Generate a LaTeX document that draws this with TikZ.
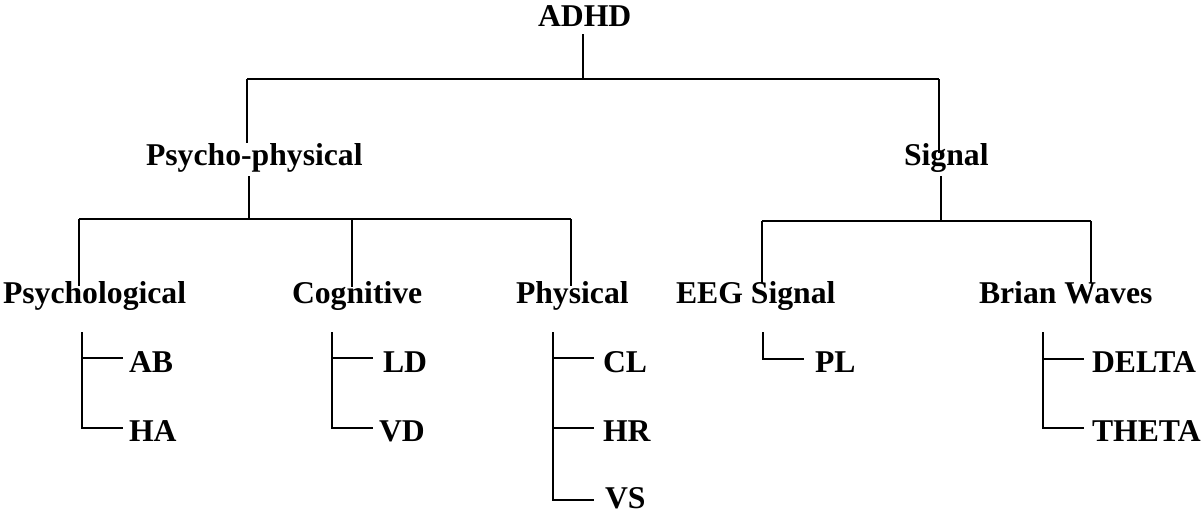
\documentclass[tikz,border=0pt]{standalone}
\usepackage{fontspec}
\setmainfont{Liberation Serif}
\begin{document}
\begin{tikzpicture}[x=1pt,y=-1pt,
  lbl/.style={anchor=base west,inner sep=0pt,outer sep=0pt,
              font=\bfseries\fontsize{31.7}{38}\selectfont},
  wire/.style={line width=1.3pt},
  bus/.style={line width=1.8pt}]
\useasboundingbox (0,0) rectangle (1203,514);

% ---- labels ----
\node[lbl] (adhd)  at (538,27)  {ADHD};
\node[lbl] (psy)   at (146,165) {Psycho-physical};
\node[lbl] (sig)   at (904,165) {Signal};
\node[lbl] (psl)   at (3,303)   {Psychological};
\node[lbl] (cog)   at (292,303) {Cognitive};
\node[lbl] (phy)   at (516,303) {Physical};
\node[lbl] (eeg)   at (676,303) {EEG Signal};
\node[lbl] (brw)   at (979,303) {Brian Waves};
\node[lbl] (ab)    at (129,372) {AB};
\node[lbl] (ha)    at (129,441) {HA};
\node[lbl] (ld)    at (383,372) {LD};
\node[lbl] (vd)    at (379,441) {VD};
\node[lbl] (cl)    at (603,372) {CL};
\node[lbl] (hr)    at (603,441) {HR};
\node[lbl] (vs)    at (605,508) {VS};
\node[lbl] (pl)    at (815,372) {PL};
\node[lbl] (delta) at (1092,372) {DELTA};
\node[lbl] (theta) at (1092,441) {THETA};

% ---- junction points ----
\coordinate (adhd-stem) at (583,34);
\coordinate (adhd-bus)  at (583,79);
\coordinate (psy-in)    at (247,143);
\coordinate (sig-in)    at (939,153);
\coordinate (psy-stem)  at (249,176);
\coordinate (psy-bus)   at (249,219);
\coordinate (sig-stem)  at (941,176);
\coordinate (sig-bus)   at (941,221);
\coordinate (psl-in)    at (79,286);
\coordinate (cog-in)    at (352,287);
\coordinate (phy-in)    at (571,286);
\coordinate (eeg-in)    at (762,283);
\coordinate (brw-in)    at (1091,283);
% leaf brackets
\coordinate (psl-top)   at (82,332);
\coordinate (cog-top)   at (332,332);
\coordinate (phy-top)   at (553,332);
\coordinate (eeg-top)   at (763,332);
\coordinate (brw-top)   at (1043,332);
\coordinate (ab-end)    at (123,358);
\coordinate (ha-end)    at (123,428);
\coordinate (ld-end)    at (373,358);
\coordinate (vd-end)    at (373,428);
\coordinate (cl-end)    at (594,358);
\coordinate (hr-end)    at (594,428);
\coordinate (vs-end)    at (594,500);
\coordinate (pl-end)    at (804,359);
\coordinate (delta-end) at (1084,359);
\coordinate (theta-end) at (1084,428);

% ---- level 1 ----
\draw[wire] (adhd-stem) -- (adhd-bus);
\draw[bus]  (psy-in |- adhd-bus) -- (sig-in |- adhd-bus);
\draw[wire] (psy-in |- adhd-bus) -- (psy-in);
\draw[wire] (sig-in |- adhd-bus) -- (sig-in);

% ---- level 2 ----
\draw[wire] (psy-stem) -- (psy-bus);
\draw[bus]  (psl-in |- psy-bus) -- (phy-in |- psy-bus);
\draw[wire] (psl-in |- psy-bus) -- (psl-in);
\draw[wire] (cog-in |- psy-bus) -- (cog-in);
\draw[wire] (phy-in |- psy-bus) -- (phy-in);

\draw[wire] (sig-stem) -- (sig-bus);
\draw[bus]  (eeg-in |- sig-bus) -- (brw-in |- sig-bus);
\draw[wire] (eeg-in |- sig-bus) -- (eeg-in);
\draw[wire] (brw-in |- sig-bus) -- (brw-in);

% ---- leaves ----
\draw[wire] (psl-top) -- (psl-top |- ha-end) -- (ha-end);
\draw[wire] (psl-top |- ab-end) -- (ab-end);

\draw[wire] (cog-top) -- (cog-top |- vd-end) -- (vd-end);
\draw[wire] (cog-top |- ld-end) -- (ld-end);

\draw[wire] (phy-top) -- (phy-top |- vs-end) -- (vs-end);
\draw[wire] (phy-top |- cl-end) -- (cl-end);
\draw[wire] (phy-top |- hr-end) -- (hr-end);

\draw[wire] (eeg-top) -- (eeg-top |- pl-end) -- (pl-end);

\draw[wire] (brw-top) -- (brw-top |- theta-end) -- (theta-end);
\draw[wire] (brw-top |- delta-end) -- (delta-end);
\end{tikzpicture}
\end{document}
